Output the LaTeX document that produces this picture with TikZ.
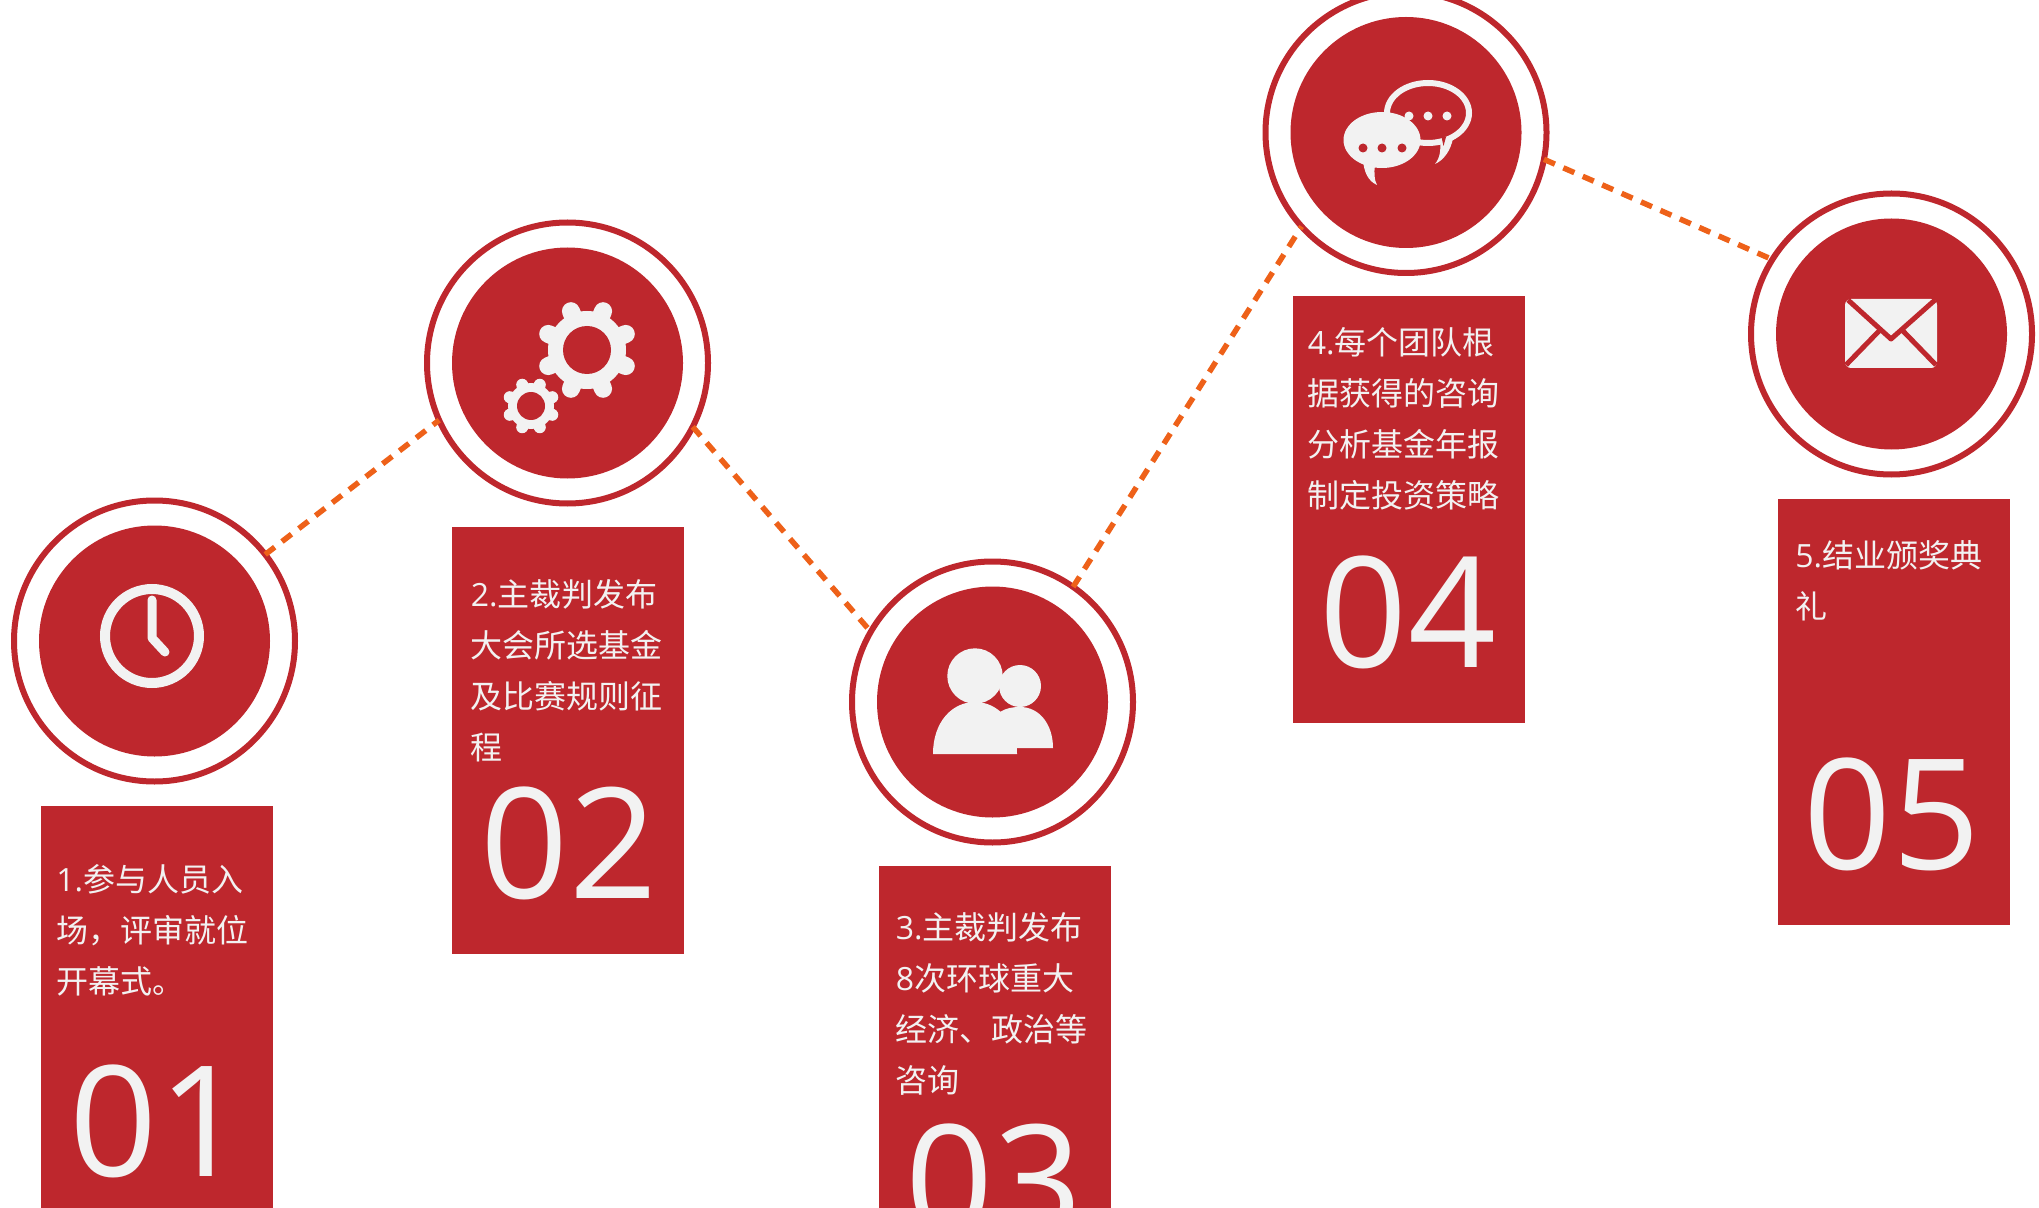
\documentclass[tikz,border=0pt]{standalone}
\usepackage{fontspec}
\setmainfont{Open Sans}
\newfontfamily\cjk{Noto Sans CJK SC}
\definecolor{brandred}{HTML}{BE272D}
\definecolor{paleink}{HTML}{F2F2F2}
\definecolor{linkorange}{HTML}{EE6119}
\tikzset{
  ringnode/.style={circle,draw=brandred,fill=white,line width=3pt,minimum size=140.5pt,inner sep=0pt,outer sep=0pt},
  cardnode/.style={rectangle,fill=brandred,draw=none,anchor=north west,minimum width=116pt,inner sep=0pt,outer sep=0pt},
  bodytext/.style={anchor=north west,align=left,text=paleink,inner sep=0pt,font=\fontsize{16}{25.5}\selectfont},
  bignum/.style={anchor=base,text=paleink,inner sep=0pt,font=\fontsize{77}{77}\selectfont},
  linkline/.style={draw=linkorange,line width=2.75pt,dash pattern=on 6pt off 4.6pt},
  iconfill/.style={fill=paleink,draw=none},
  disc/.style={fill=brandred,draw=none}
}
\begin{document}
\begin{tikzpicture}[x=0.5pt,y=-0.5pt]
\useasboundingbox (0,0) rectangle (2039,1208);
\clip (0,0) rectangle (2039,1208);
\fill[white] (0,0) rectangle (2039,1208);
% rings
\node[ringnode] (c1) at (154.5,641) {};
\node[ringnode] (c2) at (567.5,363) {};
\node[ringnode] (c3) at (992.5,702) {};
\node[ringnode] (c4) at (1406,132.5) {};
\node[ringnode] (c5) at (1891.5,334) {};
\foreach \n in {c1,c2,c3,c4,c5} \fill[disc] (\n) circle (115.5);
% connectors
\draw[linkline] (c1.38) -- (c2.204);
\draw[linkline] (c2.-27) -- (c3.150);
\draw[linkline] (c3.55) -- (c4.222);
\draw[linkline] (c4.-11) -- (c5.148);
% cards
\node[cardnode,minimum height=260pt] (r1) at (41,806) {};
\node[cardnode,minimum height=213.5pt] (r2) at (452,527) {};
\node[cardnode,minimum height=260pt] (r3) at (879,866) {};
\node[cardnode,minimum height=213.5pt] (r4) at (1293,296) {};
\node[cardnode,minimum height=213pt] (r5) at (1778,499) {};
% body text
\node[bodytext] (t1) at (56,864) {1.{\cjk 参与人员入}\\{\cjk 场，评审就位}\\{\cjk 开幕式。}};
\node[bodytext] (t2) at (470.5,579) {2.{\cjk 主裁判发布}\\{\cjk 大会所选基金}\\{\cjk 及比赛规则征}\\{\cjk 程}};
\node[bodytext] (t3) at (895.5,912) {3.{\cjk 主裁判发布}\\8{\cjk 次环球重大}\\{\cjk 经济、政治等}\\{\cjk 咨询}};
\node[bodytext] (t4) at (1307.5,327) {4.{\cjk 每个团队根}\\{\cjk 据获得的咨询}\\{\cjk 分析基金年报}\\{\cjk 制定投资策略}};
\node[bodytext] (t5) at (1795,540) {5.{\cjk 结业颁奖典}\\{\cjk 礼}};
% numbers
\node[bignum] (n1) at (158,1176) {01};
\node[bignum] (n2) at (569,898) {02};
\node[bignum] (n3) at (994,1235) {03};
\node[bignum] (n4) at (1408,667) {04};
\node[bignum] (n5) at (1892,869) {05};
% clock
\draw[paleink,line width=5pt] (152,636) circle (47);
\draw[paleink,line width=4.5pt,line cap=round,line join=round] (152,600) -- (152,638) -- (165,652);
% gears
\foreach \a in {22.5,67.5,...,337.5} {
  \draw[paleink,line width=9pt,line cap=round] (587,350) ++(\a:34) -- ++(\a:8);
  \draw[paleink,line width=6pt,line cap=round] (531,406) ++(\a:18) -- ++(\a:5);
}
\fill[iconfill] (587,350) circle (39);
\fill[disc] (587,350) circle (24);
\fill[iconfill] (531,406) circle (23);
\fill[disc] (531,406) circle (14);
% people
\fill[iconfill] (975,676) circle (27.7);
\fill[iconfill] (1020,686) circle (21);
\fill[iconfill] (933,754) .. controls (933,722) and (952,702) .. (975,702) .. controls (998,702) and (1017,722) .. (1017,754) -- cycle;
\fill[iconfill] (1000,712) .. controls (1006,708) and (1013,707) .. (1020,707) .. controls (1040,707) and (1053,725) .. (1053,748) -- (1015,748) -- cycle;
% chat bubbles
\fill[iconfill] (1440,140) .. controls (1441,150) and (1440,158) .. (1435,164) .. controls (1444,160) and (1451,150) .. (1453,138) -- cycle;
\draw[paleink,fill=brandred,line width=3pt] (1428,113) ellipse (41 and 30);
\fill[disc] (1441.5,137) -- (1443.5,146) -- (1446,137) -- cycle;
\fill[iconfill] (1363,160) .. controls (1364,172) and (1368,181) .. (1377,185) .. controls (1374,180) and (1374,172) .. (1375,165) -- cycle;
\fill[iconfill] (1382,140) ellipse (38.5 and 28);
\foreach \x in {1409,1428,1447} \fill[iconfill] (\x,116) circle (4.5);
\foreach \x in {1363,1382,1402} \fill[disc] (\x,148) circle (4.5);
% envelope
\fill[iconfill,rounded corners=3pt] (1845,299) rectangle (1937,368);
\draw[brandred,line width=2.5pt,line join=round] (1848,300) -- (1891,339) -- (1935,300);
\draw[brandred,line width=2.5pt] (1846,365) -- (1879,331);
\draw[brandred,line width=2.5pt] (1936,365) -- (1903,331);
\end{tikzpicture}
\end{document}
